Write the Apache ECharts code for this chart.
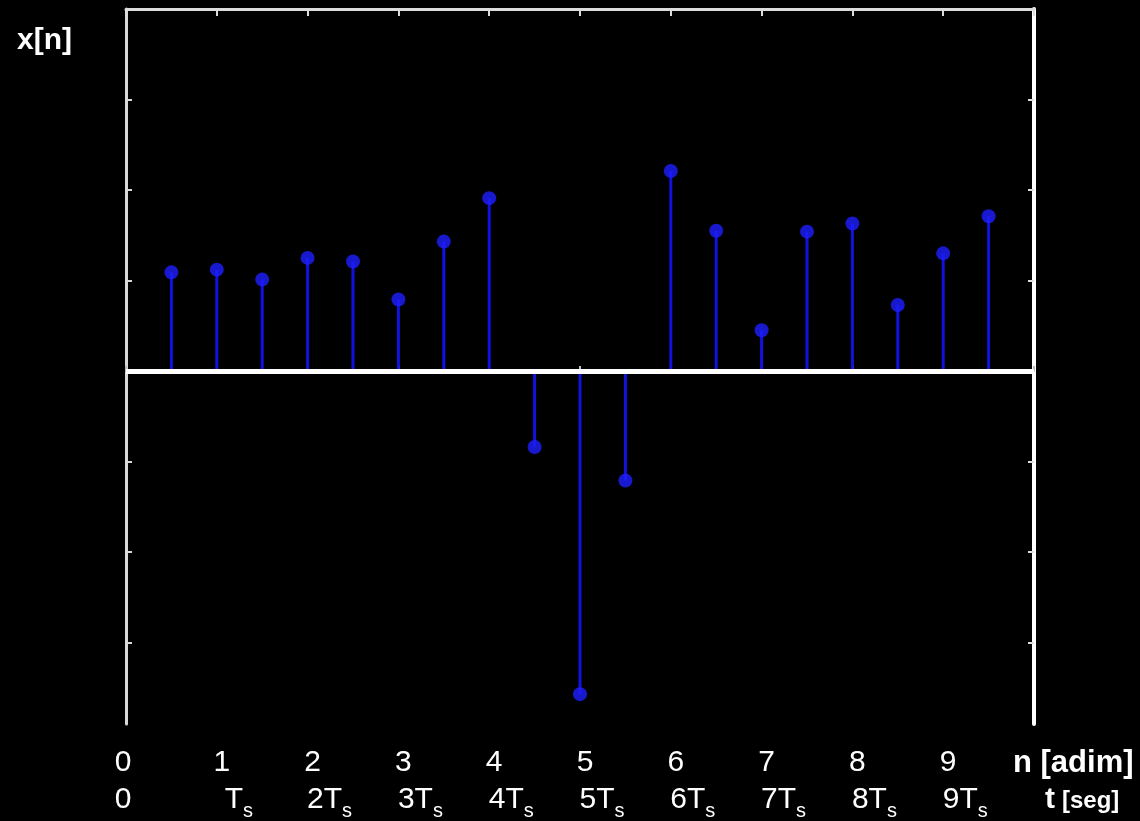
<!DOCTYPE html>
<html>
<head>
<meta charset="utf-8">
<script src="https://cdn.jsdelivr.net/npm/echarts@6/dist/echarts.min.js"></script>
<style>
html,body{margin:0;padding:0;background:#000;}
#c{width:1140px;height:821px;}
</style>
</head>
<body>
<div id="c"></div>
<script>
// sample instants n (adimensional) and values x[n]
const nSamples = [0.5, 1, 1.5, 2, 2.5, 3, 3.5, 4, 4.5, 5, 5.5, 6, 6.5, 7, 7.5, 8, 8.5, 9, 9.5];
const xValues  = [1.09, 1.12, 1.01, 1.25, 1.21, 0.79, 1.43, 1.91, -0.84, -3.57, -1.21, 2.21, 1.55, 0.45, 1.54, 1.63, 0.73, 1.30, 1.71];
// tick labels
const nTickLabels = ['0', '1', '2', '3', '4', '5', '6', '7', '8', '9'];
const tTickLabels = ['0', '', '2', '3', '4', '5', '6', '7', '8', '9']; // prefix before "T" with subscript s
const yTicks = [-3, -2, -1, 1, 2, 3];

const FONT = 'Liberation Sans, Arial, Helvetica, sans-serif';
const pairs = nSamples.map((n, i) => [n, xValues[i]]);

const chart = echarts.init(document.getElementById('c'), null, {renderer: 'canvas'});
chart.setOption({
  backgroundColor: '#000',
  animation: false,
  grid: {left: 126, right: 106, top: 9, bottom: 97, containLabel: false},
  xAxis: [
    {
      type: 'value', position: 'bottom', min: 0, max: 10, interval: 1,
      splitLine: {show: false},
      axisLine: {show: true, lineStyle: {color: '#8a8a8a', width: 1}},
      axisTick: {show: true, inside: true, length: 5, lineStyle: {color: '#bbbbbb', width: 2}},
      axisLabel: {
        show: true, margin: 24, color: '#fff', fontFamily: FONT,
        formatter: v => {
          if (v >= nTickLabels.length) return '';
          return v === 0 ? '{z|' + nTickLabels[0] + '}' : '{d|' + nTickLabels[v] + '}';
        },
        rich: {
          z: {fontSize: 30, lineHeight: 30, color: '#fff', fontFamily: FONT, padding: [0, 6, 0, 0]},
          d: {fontSize: 30, lineHeight: 30, color: '#fff', fontFamily: FONT, padding: [0, 0, 0, 10]}
        }
      }
    },
    {
      type: 'value', position: 'bottom', min: 0, max: 10, interval: 1,
      splitLine: {show: false},
      axisLine: {show: false}, axisTick: {show: false},
      axisLabel: {
        show: true, margin: 54, color: '#fff', fontFamily: FONT,
        formatter: v => {
          if (v >= tTickLabels.length) return '';
          if (v === 0) return '{z|' + tTickLabels[0] + '}';
          return '{t|' + tTickLabels[v] + 'T}{s|s}';
        },
        rich: {
          z: {fontSize: 30, lineHeight: 43, color: '#fff', fontFamily: FONT, padding: [0, 6, 0, 0]},
          t: {fontSize: 30, lineHeight: 43, color: '#fff', fontFamily: FONT, padding: [0, 0, 0, 44]},
          s: {fontSize: 20, lineHeight: 43, color: '#fff', fontFamily: FONT, verticalAlign: 'bottom'}
        }
      }
    },
    {
      type: 'value', position: 'top', min: 0, max: 10, interval: 1,
      splitLine: {show: false},
      axisLine: {show: true, lineStyle: {color: '#dcdcdc', width: 3}},
      axisTick: {show: true, inside: true, length: 7, lineStyle: {color: '#dcdcdc', width: 2}},
      axisLabel: {show: false}
    }
  ],
  yAxis: [
    {
      type: 'value', position: 'left', min: -3.9, max: 4,
      splitLine: {show: false},
      axisLine: {show: true, onZero: false, lineStyle: {color: '#d8d8d8', width: 3}},
      axisTick: {show: true, inside: true, length: 6, customValues: yTicks, lineStyle: {color: '#d8d8d8', width: 2}},
      axisLabel: {show: false}
    },
    {
      type: 'value', position: 'right', min: -3.9, max: 4,
      splitLine: {show: false},
      axisLine: {show: true, onZero: false, lineStyle: {color: '#ffffff', width: 4}},
      axisTick: {show: true, inside: true, length: 6, customValues: yTicks, lineStyle: {color: '#dddddd', width: 2}},
      axisLabel: {show: false}
    }
  ],
  series: [
    {
      type: 'bar', xAxisIndex: 0, yAxisIndex: 0, barWidth: 3,
      itemStyle: {color: '#1212e0'},
      data: pairs,
      markLine: {
        silent: true, symbol: ['none', 'none'], label: {show: false},
        lineStyle: {color: '#ffffff', width: 5, type: 'solid'},
        data: [{yAxis: 0}]
      },
      z: 2
    },
    {
      type: 'scatter', xAxisIndex: 0, yAxisIndex: 0, symbol: 'circle', symbolSize: 14,
      itemStyle: {color: '#1e1eff'},
      data: pairs,
      z: 4
    }
  ],
  graphic: [
    {type: 'text', left: 17, top: 26, style: {text: 'x[n]', fill: '#fff', font: 'bold 30px ' + FONT}},
    {type: 'text', left: 1013, top: 748, style: {text: 'n [adim]', fill: '#fff', font: 'bold 31px ' + FONT}},
    {type: 'text', left: 1045, top: 785, style: {text: 't', fill: '#fff', font: 'bold 30px ' + FONT}},
    {type: 'text', left: 1062, top: 789, style: {text: '[seg]', fill: '#fff', font: 'bold 24px ' + FONT}}
  ]
});
</script>
</body>
</html>
